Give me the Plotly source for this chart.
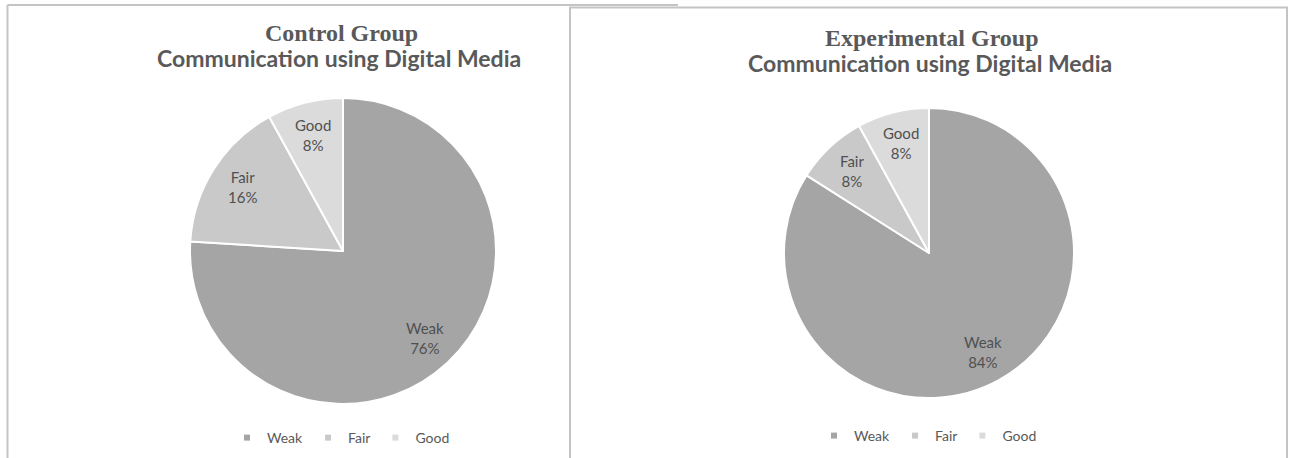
import math
import plotly.graph_objects as go

W, H = 1292, 458

# ---- data ----
categories = ["Weak", "Fair", "Good"]
control_values = [76, 16, 8]
experimental_values = [84, 8, 8]
colors = ["#a5a5a5", "#c9c9c9", "#dbdbdb"]

group_titles = ["Control Group", "Experimental Group"]
subtitle = "Communication using Digital Media"

TEXT = "#595959"
LABEL = "#505050"
FRAME = "#c4c4c4"


def px(x):
    return x / W


def py(y):
    return 1 - y / H


fig = go.Figure()

# pie boxes in pixels: left, right, top, bottom
pie_boxes = [
    (190, 496, 98, 404),
    (784, 1074, 108, 398),
]

annotations = []
for vals, (l, r, t, b) in zip([control_values, experimental_values], pie_boxes):
    fig.add_trace(go.Pie(
        labels=categories,
        values=vals,
        sort=False,
        direction="clockwise",
        rotation=0,
        marker=dict(colors=colors, line=dict(color="white", width=2)),
        textinfo="none",
        domain=dict(x=[px(l), px(r)], y=[py(b), py(t)]),
        showlegend=False,
        hoverinfo="label+percent",
    ))

    # category / percent labels placed at each slice's mid-angle
    cx, cy, radius = (l + r) / 2, (t + b) / 2, (r - l) / 2
    total = sum(vals)
    cum = 0
    for cat, v in zip(categories, vals):
        mid = math.radians((cum + v / 2) / total * 360)
        cum += v
        lx = cx + 0.78 * radius * math.sin(mid)
        ly = cy - 0.78 * radius * math.cos(mid)
        annotations.append(dict(
            text=f"{cat}<br>{round(v / total * 100)}%",
            x=px(lx), y=py(ly), xref="paper", yref="paper",
            showarrow=False, xanchor="center", yanchor="middle",
            font=dict(family="Lato, sans-serif", size=15, color=LABEL),
        ))

# small square legend entries, one legend per panel
for legend_name in ["legend", "legend2"]:
    for cat, col in zip(categories, colors):
        fig.add_trace(go.Scatter(
            x=[None], y=[None], mode="markers", name=cat,
            marker=dict(symbol="square", size=6, color=col),
            legend=legend_name, showlegend=True, hoverinfo="skip",
        ))

legend_style = dict(
    orientation="h", xanchor="center", yanchor="middle",
    font=dict(family="Lato, sans-serif", size=14, color=TEXT),
    bgcolor="rgba(0,0,0,0)", itemwidth=30, tracegroupgap=0,
)

# panel frames
shapes = [
    # left panel: top edge and left edge
    dict(type="line", xref="paper", yref="paper",
         x0=px(7.5), x1=px(678), y0=py(5), y1=py(5),
         line=dict(color=FRAME, width=2)),
    dict(type="line", xref="paper", yref="paper",
         x0=px(7.5), x1=px(7.5), y0=py(5), y1=py(470),
         line=dict(color=FRAME, width=2)),
    # right panel box drawn over the left one
    dict(type="rect", xref="paper", yref="paper",
         x0=px(570), x1=px(1287), y0=py(7.5), y1=py(470),
         line=dict(color=FRAME, width=2), fillcolor="white", layer="below"),
]

title_pos = [(341, 33, 58), (932, 38, 63)]
for title, (cx, y1, y2) in zip(group_titles, title_pos):
    annotations.append(dict(
        text=f"<b>{title}</b>", x=px(cx), y=py(y1), xref="paper", yref="paper",
        showarrow=False, xanchor="center", yanchor="middle",
        font=dict(family="Liberation Serif, serif", size=24, color=TEXT),
    ))
    annotations.append(dict(
        text=f"<b>{subtitle}</b>", x=px(cx - 2), y=py(y2), xref="paper", yref="paper",
        showarrow=False, xanchor="center", yanchor="middle",
        font=dict(family="Lato, sans-serif", size=23, color=TEXT),
    ))

fig.update_layout(
    width=W, height=H,
    margin=dict(l=0, r=0, t=0, b=0),
    paper_bgcolor="white", plot_bgcolor="white",
    xaxis=dict(visible=False, domain=[0, 0.001]),
    yaxis=dict(visible=False, domain=[0, 0.001]),
    shapes=shapes,
    annotations=annotations,
    legend=dict(x=px(341), y=py(438), **legend_style),
    legend2=dict(x=px(928), y=py(436), **legend_style),
)

fig.write_html("out.html")
